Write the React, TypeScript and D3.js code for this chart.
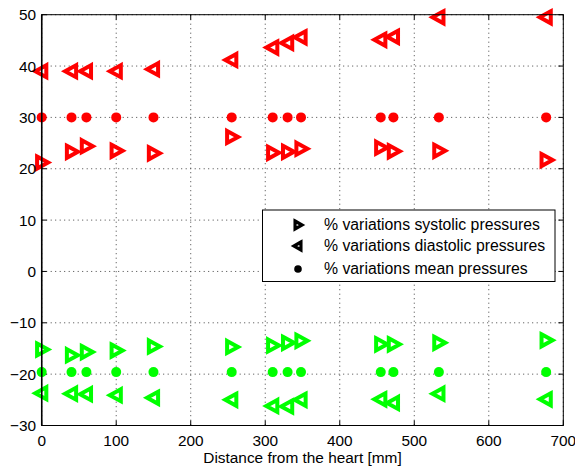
import * as d3 from "d3";

// distance from the heart [mm]
const distances = [0, 40, 60, 100, 150, 255, 310, 330, 348, 455, 472, 533, 677];

const redSystolic = [21.2, 23.3, 24.4, 23.5, 23.0, 26.2, 23.1, 23.3, 23.9, 24.1, 23.4, 23.5, 21.7];
const redDiastolic = [39.0, 39.0, 39.0, 39.0, 39.4, 41.2, 43.6, 44.5, 45.6, 45.1, 45.7, 49.5, 49.5];
const redMean = [30, 30, 30, 30, 30, 30, 30, 30, 30, 30, 30, 30, 30];

const greenSystolic = [-15.2, -16.3, -15.7, -15.4, -14.6, -14.7, -14.4, -13.9, -13.5, -14.2, -14.2, -13.9, -13.4];
const greenDiastolic = [-23.7, -23.8, -23.9, -24.1, -24.6, -25.0, -26.2, -26.3, -25.0, -24.9, -25.6, -23.8, -24.9];
const greenMean = [-19.6, -19.6, -19.6, -19.6, -19.6, -19.6, -19.6, -19.6, -19.6, -19.6, -19.6, -19.6, -19.6];

const xTicks = [0, 100, 200, 300, 400, 500, 600, 700];
const yTicks = [-30, -20, -10, 0, 10, 20, 30, 40, 50];

const legendLabels = [
  "% variations systolic pressures",
  "% variations diastolic pressures",
  "% variations mean pressures",
];

const RED = "#ff0000";
const GREEN = "#00ff00";

const width = 575;
const height = 466;
const left = 41.7;
const right = 563.3;
const top = 14.7;
const bottom = 425.5;

const font = "'Liberation Sans', Arial, Helvetica, sans-serif";
const fs = 15.4;

function fmt(v: number) {
  return v < 0 ? "\u2212" + Math.abs(v) : String(v);
}

// right-pointing (dir=1) or left-pointing (dir=-1) triangle
function tri(cx: number, cy: number, dir: number, w: number, h: number) {
  const back = cx - dir * w * 0.42;
  const tip = cx + dir * w * 0.58;
  return `M${back},${cy - h / 2}L${tip},${cy}L${back},${cy + h / 2}Z`;
}

export default function App() {
  const x = d3.scaleLinear().domain([0, 700]).range([left, right]);
  const y = d3.scaleLinear().domain([-30, 50]).range([bottom, top]);

  const triSeries = [
    { vals: redSystolic, color: RED, dir: 1 },
    { vals: redDiastolic, color: RED, dir: -1 },
    { vals: greenSystolic, color: GREEN, dir: 1 },
    { vals: greenDiastolic, color: GREEN, dir: -1 },
  ];
  const dotSeries = [
    { vals: redMean, color: RED },
    { vals: greenMean, color: GREEN },
  ];

  const lg = { x0: 262.5, y0: 210, x1: 555, y1: 281.5 };
  const lgRows = [225, 246, 269];

  return (
    <svg
      width={width}
      height={height}
      style={{ position: "absolute", left: 0, top: 0, background: "#fff" }}
      fontFamily={font}
    >
      <rect x={0} y={0} width={width} height={height} fill="#fff" />
      {/* grid */}
      {xTicks.map((t) => (
        <line key={"gx" + t} x1={x(t)} x2={x(t)} y1={top} y2={bottom}
          stroke="#444" strokeWidth={1} strokeDasharray="1,3.5" />
      ))}
      {yTicks.map((t) => (
        <line key={"gy" + t} x1={left} x2={right} y1={y(t)} y2={y(t)}
          stroke="#444" strokeWidth={1} strokeDasharray="1,3.5" />
      ))}
      {/* ticks */}
      {xTicks.map((t) => (
        <g key={"tx" + t} stroke="#000">
          <line x1={x(t)} x2={x(t)} y1={bottom} y2={bottom - 5} />
          <line x1={x(t)} x2={x(t)} y1={top} y2={top + 5} />
        </g>
      ))}
      {yTicks.map((t) => (
        <g key={"ty" + t} stroke="#000">
          <line x1={left} x2={left + 5} y1={y(t)} y2={y(t)} />
          <line x1={right} x2={right - 5} y1={y(t)} y2={y(t)} />
        </g>
      ))}
      {/* markers */}
      {dotSeries.map((s, i) =>
        s.vals.map((v, j) => (
          <circle key={`d${i}-${j}`} cx={x(distances[j])} cy={y(v)} r={5} fill={s.color} />
        ))
      )}
      {triSeries.map((s, i) =>
        s.vals.map((v, j) => (
          <path key={`t${i}-${j}`} d={tri(x(distances[j]), y(v), s.dir, 11, 12)}
            fill="#fff" stroke={s.color} strokeWidth={4} strokeLinejoin="miter" />
        ))
      )}
      {/* axes box */}
      <rect x={left} y={top} width={right - left} height={bottom - top}
        fill="none" stroke="#000" strokeWidth={1} />
      <line x1={left} x2={left} y1={top} y2={bottom} stroke="#000" strokeWidth={1.5} />
      {/* tick labels */}
      {xTicks.map((t) => (
        <text key={"lx" + t} x={x(t)} y={446} textAnchor="middle" fontSize={fs} fill="#000">
          {t}
        </text>
      ))}
      {yTicks.map((t) => (
        <text key={"ly" + t} x={36} y={y(t) + 5.5} textAnchor="end" fontSize={fs} fill="#000">
          {fmt(t)}
        </text>
      ))}
      <text x={(left + right) / 2} y={462.7} textAnchor="middle" fontSize={fs} fill="#000">
        Distance from the heart [mm]
      </text>
      {/* legend */}
      <rect x={lg.x0} y={lg.y0} width={lg.x1 - lg.x0} height={lg.y1 - lg.y0}
        fill="#fff" stroke="#000" strokeWidth={1} />
      <path d={tri(298, lgRows[0], 1, 7, 8)} fill="#fff" stroke="#000" strokeWidth={3.2} />
      <path d={tri(298, lgRows[1], -1, 7, 8)} fill="#fff" stroke="#000" strokeWidth={3.2} />
      <circle cx={298} cy={lgRows[2]} r={3.8} fill="#000" />
      {legendLabels.map((l, i) => (
        <text key={l} x={324} y={lgRows[i] + 5.3} fontSize={15.8} fill="#000">
          {l}
        </text>
      ))}
    </svg>
  );
}
